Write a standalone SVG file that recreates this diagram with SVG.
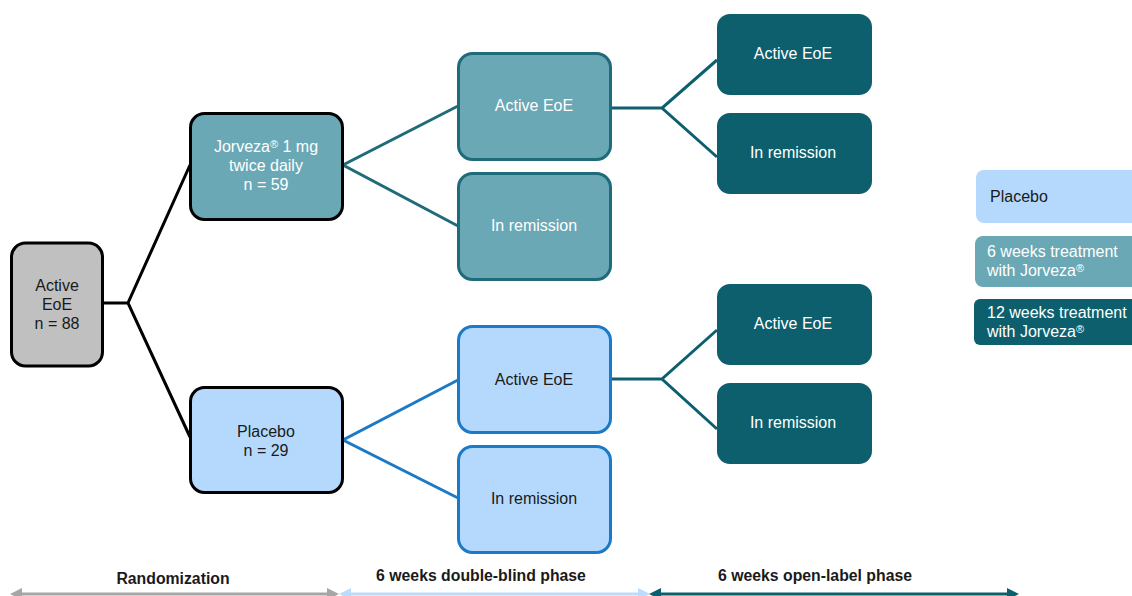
<svg xmlns="http://www.w3.org/2000/svg" width="1132" height="596" viewBox="0 0 1132 596">
<style>
text{font-family:"Liberation Sans",Arial,sans-serif;font-size:16px;text-anchor:middle}
.w{fill:#ffffff}
.k{fill:#1a1a1a}
.b{font-weight:bold;font-size:15.8px;fill:#1a1a1a}
.lg{text-anchor:start}
.bk{stroke:#000;stroke-width:3}
.c{fill:none;stroke-width:3}
</style>
<defs>
<marker id="ag" viewBox="0 0 10 10" refX="5" refY="5" markerWidth="4" markerHeight="4" orient="auto-start-reverse"><path d="M0,0L10,5L0,10z" fill="#a6a6a6"/></marker>
<marker id="ab" viewBox="0 0 10 10" refX="5" refY="5" markerWidth="4" markerHeight="4" orient="auto-start-reverse"><path d="M0,0L10,5L0,10z" fill="#bcdcfb"/></marker>
<marker id="at" viewBox="0 0 10 10" refX="5" refY="5" markerWidth="4" markerHeight="4" orient="auto-start-reverse"><path d="M0,0L10,5L0,10z" fill="#0d5f6e"/></marker>
</defs>
<g id="connectors">
<path class="c" stroke="#000" d="M103,303H128M190,165L128,303L190,437"/>
<path class="c" stroke="#1f6b79" d="M458,106L343,165L458,226"/>
<path class="c" stroke="#1a7ac8" d="M458,380L343,440L458,498"/>
<path class="c" stroke="#0d5f6e" d="M611,108H662M717,60L662,108L717,157"/>
<path class="c" stroke="#0d5f6e" d="M611,379H662M717,330L662,379L717,429"/>
</g>
<g id="n-root"><rect class="bk" x="11.5" y="243" width="91" height="123" rx="14" fill="#c0c0c0"/>
<text class="k" x="57" y="291">Active</text><text class="k" x="57" y="310">EoE</text><text class="k" x="57" y="329">n = 88</text></g>
<g id="n-jorveza"><rect class="bk" x="190.5" y="113.5" width="152" height="106" rx="14" fill="#6aa8b5"/>
<text class="w" x="266" y="152">Jorveza<tspan font-size="11" dy="-4">®</tspan><tspan dy="4"> 1 mg</tspan></text><text class="w" x="266" y="171">twice daily</text><text class="w" x="266" y="190">n = 59</text></g>
<g id="n-placebo"><rect class="bk" x="190.5" y="387.5" width="152" height="105" rx="14" fill="#b5d9fc"/>
<text class="k" x="266" y="437">Placebo</text><text class="k" x="266" y="456">n = 29</text></g>
<g id="n-j-active"><rect x="458.5" y="53.5" width="152" height="106" rx="14" fill="#6aa8b5" stroke="#1f6b79" stroke-width="3"/>
<text class="w" x="534" y="111">Active EoE</text></g>
<g id="n-j-rem"><rect x="458.5" y="173.5" width="152" height="106" rx="14" fill="#6aa8b5" stroke="#1f6b79" stroke-width="3"/>
<text class="w" x="534" y="231">In remission</text></g>
<g id="n-p-active"><rect x="458.5" y="326.5" width="152" height="106" rx="14" fill="#b5d9fc" stroke="#1a7ac8" stroke-width="3"/>
<text class="k" x="534" y="385">Active EoE</text></g>
<g id="n-p-rem"><rect x="458.5" y="446.5" width="152" height="106" rx="14" fill="#b5d9fc" stroke="#1a7ac8" stroke-width="3"/>
<text class="k" x="534" y="504">In remission</text></g>
<g id="n-ja-active"><rect x="717" y="14" width="155" height="81" rx="13" fill="#0d5f6e"/>
<text class="w" x="793" y="59">Active EoE</text></g>
<g id="n-ja-rem"><rect x="717" y="113" width="155" height="81" rx="13" fill="#0d5f6e"/>
<text class="w" x="793" y="158">In remission</text></g>
<g id="n-pa-active"><rect x="717" y="284" width="155" height="81" rx="13" fill="#0d5f6e"/>
<text class="w" x="793" y="329">Active EoE</text></g>
<g id="n-pa-rem"><rect x="717" y="383" width="155" height="81" rx="13" fill="#0d5f6e"/>
<text class="w" x="793" y="428">In remission</text></g>
<g id="legend-placebo"><rect x="976" y="170" width="170" height="53" rx="8" fill="#b5d9fc"/>
<text class="k lg" x="990" y="202">Placebo</text></g>
<g id="legend-6w"><rect x="975" y="236" width="170" height="51" rx="8" fill="#6aa8b5"/>
<text class="w lg" x="987" y="257">6 weeks treatment</text><text class="w lg" x="987" y="276">with Jorveza<tspan font-size="11" dy="-4">®</tspan></text></g>
<g id="legend-12w"><rect x="974" y="299" width="170" height="46" rx="6" fill="#0d5f6e"/>
<text class="w lg" x="987" y="318">12 weeks treatment</text><text class="w lg" x="987" y="337">with Jorveza<tspan font-size="11" dy="-4">®</tspan></text></g>
<g id="phases">
<line x1="16" y1="594" x2="333" y2="594" stroke="#a6a6a6" stroke-width="3" marker-start="url(#ag)" marker-end="url(#ag)"/>
<line x1="345" y1="594" x2="644" y2="594" stroke="#bcdcfb" stroke-width="3" marker-start="url(#ab)" marker-end="url(#ab)"/>
<line x1="655" y1="594" x2="1013" y2="594" stroke="#0d5f6e" stroke-width="3" marker-start="url(#at)" marker-end="url(#at)"/>
<text class="b" x="173" y="584">Randomization</text>
<text class="b" x="481" y="581">6 weeks double-blind phase</text>
<text class="b" x="815" y="581">6 weeks open-label phase</text>
</g>
</svg>
